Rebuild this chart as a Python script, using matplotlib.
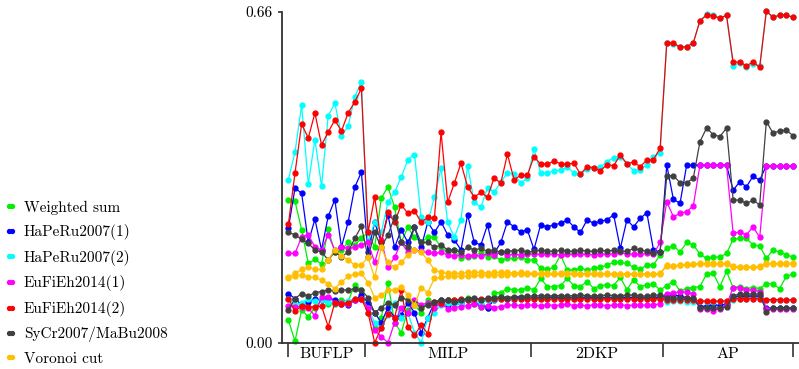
import matplotlib
matplotlib.use('Agg')
import matplotlib.pyplot as plt

plt.rcParams['font.family'] = ['cmr10', 'DejaVu Serif']
plt.rcParams['axes.formatter.use_mathtext'] = True

# instance groups (12 BUFLP, 25 MILP, 20 2DKP, 20 AP)
groups = ['BUFLP', 'MILP', '2DKP', 'AP']
group_sizes = [12, 25, 20, 20]

labels = ['Weighted sum', 'HaPeRu2007(1)', 'HaPeRu2007(2)', 'EuFiEh2014(1)',
          'EuFiEh2014(2)', 'SyCr2007/MaBu2008', 'Voronoi cut']
colors = ['#00f000', '#0000ff', '#00ffff', '#ff00ff', '#ff0000', '#404040', '#ffbf00']

# upper / lower curve of each method
ws_hi = [0.284, 0.282, 0.225, 0.158, 0.166, 0.157, 0.226, 0.18, 0.185, 0.2, 0.195, 0.208,
         0.22, 0.19, 0.288, 0.311, 0.27, 0.2, 0.23, 0.21, 0.2, 0.21, 0.21, 0.19, 0.18, 0.185, 0.168,
         0.171, 0.172, 0.18, 0.171, 0.172, 0.165, 0.168, 0.168, 0.17, 0.165,
         0.165, 0.148, 0.146, 0.15, 0.175, 0.145, 0.145, 0.148, 0.145, 0.148, 0.15, 0.155, 0.16, 0.16,
         0.158, 0.15, 0.146, 0.155, 0.155, 0.175,
         0.188, 0.193, 0.181, 0.2, 0.195, 0.177, 0.168, 0.171, 0.171, 0.178, 0.206, 0.208, 0.208,
         0.195, 0.193, 0.168, 0.185, 0.181, 0.175, 0.171]
ws_lo = [0.045, 0.003, 0.065, 0.052, 0.07, 0.085, 0.078, 0.078, 0.085, 0.082, 0.116, 0.105,
         0.06, 0.03, 0.05, 0.12, 0.04, 0.02, 0.065, 0.075, 0.06, 0.085, 0.07, 0.08, 0.085, 0.085,
         0.082, 0.09, 0.078, 0.072, 0.07, 0.1, 0.1, 0.108, 0.105, 0.106, 0.11,
         0.105, 0.128, 0.112, 0.112, 0.114, 0.128, 0.114, 0.112, 0.122, 0.108, 0.114, 0.115, 0.114,
         0.13, 0.106, 0.125, 0.112, 0.115, 0.117, 0.105,
         0.114, 0.122, 0.103, 0.108, 0.11, 0.112, 0.137, 0.138, 0.112, 0.142, 0.11, 0.112, 0.108,
         0.11, 0.108, 0.118, 0.117, 0.108, 0.132, 0.137]
hp1_hi = [0.228, 0.308, 0.298, 0.2, 0.246, 0.185, 0.252, 0.285, 0.191, 0.24, 0.31, 0.34,
          0.18, 0.24, 0.2, 0.255, 0.19, 0.225, 0.2, 0.23, 0.19, 0.24, 0.22, 0.241, 0.215, 0.205,
          0.185, 0.255, 0.2, 0.195, 0.235, 0.178, 0.2, 0.241, 0.231, 0.221, 0.225,
          0.186, 0.235, 0.231, 0.235, 0.238, 0.245, 0.231, 0.22, 0.245, 0.238, 0.242, 0.245, 0.255,
          0.188, 0.245, 0.231, 0.248, 0.259, 0.185, 0.181,
          0.354, 0.286, 0.278, 0.354, 0.354, 0.354, 0.354, 0.354, 0.354, 0.354, 0.304, 0.321, 0.311,
          0.332, 0.324, 0.353, 0.353, 0.353, 0.353, 0.353]
hp1_lo = [0.098, 0.088, 0.075, 0.082, 0.087, 0.085, 0.09, 0.085, 0.078, 0.075, 0.085, 0.095,
          0.08, 0.06, 0.04, 0.07, 0.05, 0.055, 0.08, 0.06, 0.02, 0.05, 0.08, 0.085, 0.075, 0.08,
          0.08, 0.085, 0.08, 0.075, 0.07, 0.085, 0.09, 0.088, 0.09, 0.09, 0.088,
          0.09, 0.089, 0.09, 0.091, 0.09, 0.089, 0.09, 0.09, 0.091, 0.09, 0.089, 0.09, 0.09, 0.091,
          0.09, 0.09, 0.089, 0.09, 0.09, 0.091,
          0.095, 0.095, 0.093, 0.09, 0.087, 0.071, 0.074, 0.076, 0.074, 0.078, 0.092, 0.093, 0.093,
          0.093, 0.093, 0.069, 0.069, 0.069, 0.069, 0.069]
hp2_hi = [0.325, 0.38, 0.474, 0.316, 0.405, 0.312, 0.452, 0.478, 0.412, 0.432, 0.49, 0.52,
          0.2, 0.24, 0.22, 0.28, 0.3, 0.33, 0.365, 0.375, 0.25, 0.24, 0.29, 0.348, 0.24, 0.21,
          0.245, 0.353, 0.28, 0.27, 0.309, 0.3, 0.32, 0.339, 0.336, 0.318, 0.328,
          0.386, 0.339, 0.338, 0.343, 0.344, 0.35, 0.339, 0.336, 0.346, 0.348, 0.35, 0.361, 0.369,
          0.371, 0.356, 0.343, 0.345, 0.355, 0.37, 0.379,
          0.598, 0.595, 0.589, 0.59, 0.598, 0.642, 0.655, 0.654, 0.647, 0.653, 0.552, 0.558, 0.55,
          0.555, 0.552, 0.661, 0.649, 0.653, 0.653, 0.649]
hp2_lo = [0.088, 0.075, 0.08, 0.088, 0.083, 0.086, 0.081, 0.078, 0.08, 0.083, 0.088, 0.088,
          0.07, 0.04, 0.03, 0.055, 0.08, 0.05, 0.06, 0.02, 0.0, 0.05, 0.06, 0.075, 0.08, 0.075,
          0.08, 0.085, 0.082, 0.08, 0.085, 0.085, 0.087, 0.087, 0.086, 0.087, 0.088,
          0.088, 0.087, 0.088, 0.088, 0.087, 0.088, 0.088, 0.087, 0.088, 0.088, 0.087, 0.088, 0.088,
          0.087, 0.088, 0.088, 0.087, 0.088, 0.088, 0.087,
          0.081, 0.083, 0.083, 0.082, 0.082, 0.084, 0.082, 0.082, 0.083, 0.084, 0.086, 0.087, 0.087,
          0.087, 0.087, 0.085, 0.085, 0.085, 0.085, 0.085]
ef1_hi = [0.178, 0.178, 0.211, 0.215, 0.191, 0.185, 0.215, 0.185, 0.191, 0.188, 0.19, 0.195,
          0.2, 0.16, 0.205, 0.15, 0.17, 0.2, 0.18, 0.185, 0.182, 0.18, 0.178, 0.18, 0.175, 0.172,
          0.175, 0.172, 0.175, 0.172, 0.178, 0.175, 0.18, 0.175, 0.176, 0.175, 0.176,
          0.177, 0.176, 0.177, 0.176, 0.175, 0.177, 0.176, 0.177, 0.176, 0.175, 0.177, 0.176, 0.177,
          0.18, 0.176, 0.177, 0.176, 0.178, 0.176, 0.2,
          0.281, 0.251, 0.258, 0.261, 0.273, 0.354, 0.354, 0.354, 0.354, 0.354, 0.218, 0.221, 0.215,
          0.231, 0.21, 0.353, 0.353, 0.353, 0.353, 0.353]
ef1_lo = [0.073, 0.072, 0.072, 0.069, 0.054, 0.092, 0.092, 0.08, 0.08, 0.078, 0.085, 0.087,
          0.07, 0.025, 0.012, 0.0, 0.04, 0.07, 0.06, 0.085, 0.075, 0.08, 0.07, 0.078, 0.068, 0.07,
          0.072, 0.074, 0.078, 0.072, 0.074, 0.07, 0.072, 0.075, 0.075, 0.074, 0.075,
          0.075, 0.073, 0.076, 0.074, 0.075, 0.077, 0.074, 0.075, 0.073, 0.076, 0.075, 0.074, 0.075,
          0.076, 0.074, 0.075, 0.075, 0.075, 0.075, 0.078,
          0.098, 0.1, 0.101, 0.101, 0.097, 0.068, 0.068, 0.064, 0.068, 0.075, 0.11, 0.11, 0.105,
          0.105, 0.102, 0.068, 0.068, 0.068, 0.068, 0.068]
ef2_hi = [0.236, 0.338, 0.436, 0.408, 0.458, 0.394, 0.42, 0.444, 0.422, 0.458, 0.48, 0.507,
          0.22, 0.29, 0.2, 0.26, 0.24, 0.275, 0.258, 0.263, 0.24, 0.25, 0.248, 0.42, 0.28, 0.318,
          0.358, 0.311, 0.29, 0.3, 0.29, 0.329, 0.318, 0.376, 0.325, 0.334, 0.334,
          0.371, 0.356, 0.356, 0.362, 0.357, 0.356, 0.358, 0.336, 0.351, 0.349, 0.343, 0.355, 0.353,
          0.374, 0.357, 0.36, 0.351, 0.364, 0.365, 0.388,
          0.598, 0.598, 0.589, 0.59, 0.598, 0.642, 0.653, 0.652, 0.647, 0.653, 0.559, 0.56, 0.552,
          0.56, 0.549, 0.661, 0.649, 0.653, 0.653, 0.649]
ef2_lo = [0.088, 0.063, 0.073, 0.072, 0.071, 0.073, 0.032, 0.08, 0.078, 0.079, 0.087, 0.087,
          0.06, 0.0, 0.03, 0.057, 0.05, 0.105, 0.032, 0.015, 0.035, 0.018, 0.082, 0.08, 0.085,
          0.085, 0.087, 0.085, 0.087, 0.088, 0.087, 0.088, 0.088, 0.088, 0.088, 0.088, 0.088,
          0.088, 0.088, 0.087, 0.088, 0.088, 0.088, 0.087, 0.088, 0.088, 0.088, 0.088, 0.087, 0.088,
          0.088, 0.088, 0.088, 0.087, 0.088, 0.088, 0.088,
          0.086, 0.086, 0.086, 0.086, 0.086, 0.083, 0.083, 0.083, 0.083, 0.083, 0.088, 0.088, 0.088,
          0.088, 0.088, 0.086, 0.086, 0.086, 0.086, 0.085]
sc_hi = [0.22, 0.215, 0.206, 0.198, 0.185, 0.181, 0.165, 0.181, 0.171, 0.181, 0.208, 0.232,
         0.17, 0.22, 0.19, 0.215, 0.25, 0.2, 0.19, 0.23, 0.2, 0.2, 0.19, 0.195, 0.185, 0.185,
         0.18, 0.19, 0.185, 0.188, 0.182, 0.185, 0.18, 0.183, 0.183, 0.185, 0.18,
         0.183, 0.184, 0.183, 0.182, 0.184, 0.183, 0.182, 0.184, 0.183, 0.182, 0.184, 0.183, 0.184,
         0.183, 0.182, 0.188, 0.185, 0.182, 0.178, 0.181,
         0.333, 0.333, 0.319, 0.319, 0.328, 0.401, 0.428, 0.415, 0.411, 0.428, 0.285, 0.284, 0.278,
         0.284, 0.275, 0.441, 0.418, 0.422, 0.424, 0.413]
sc_lo = [0.065, 0.088, 0.098, 0.093, 0.1, 0.102, 0.105, 0.103, 0.105, 0.105, 0.108, 0.105,
         0.09, 0.06, 0.07, 0.08, 0.075, 0.09, 0.085, 0.08, 0.07, 0.075, 0.082, 0.085, 0.085,
         0.082, 0.085, 0.088, 0.09, 0.085, 0.09, 0.09, 0.092, 0.09, 0.092, 0.092, 0.093,
         0.093, 0.094, 0.093, 0.094, 0.094, 0.093, 0.094, 0.095, 0.094, 0.093, 0.094, 0.095, 0.094,
         0.094, 0.095, 0.095, 0.093, 0.093, 0.095, 0.095,
         0.089, 0.089, 0.089, 0.089, 0.089, 0.07, 0.069, 0.069, 0.069, 0.071, 0.094, 0.097, 0.097,
         0.097, 0.097, 0.062, 0.069, 0.069, 0.069, 0.069]
vc_hi = [0.131, 0.138, 0.146, 0.151, 0.146, 0.146, 0.165, 0.185, 0.173, 0.165, 0.155, 0.155,
         0.17, 0.13, 0.19, 0.16, 0.15, 0.16, 0.175, 0.185, 0.18, 0.165, 0.145, 0.14, 0.138, 0.138,
         0.138, 0.14, 0.14, 0.14, 0.139, 0.14, 0.14, 0.14, 0.139, 0.14, 0.139,
         0.138, 0.138, 0.138, 0.138, 0.138, 0.138, 0.138, 0.137, 0.138, 0.138, 0.137, 0.138, 0.137,
         0.137, 0.137, 0.137, 0.137, 0.137, 0.137, 0.138,
         0.155, 0.153, 0.155, 0.156, 0.157, 0.158, 0.158, 0.158, 0.158, 0.158, 0.152, 0.151, 0.151,
         0.151, 0.152, 0.158, 0.158, 0.158, 0.158, 0.158]
vc_lo = [0.128, 0.132, 0.135, 0.131, 0.13, 0.125, 0.118, 0.108, 0.121, 0.132, 0.137, 0.138,
         0.12, 0.09, 0.095, 0.105, 0.105, 0.112, 0.095, 0.075, 0.11, 0.1, 0.128, 0.13, 0.132,
         0.132, 0.133, 0.133, 0.134, 0.134, 0.135, 0.135, 0.135, 0.135, 0.136, 0.136, 0.136,
         0.136, 0.136, 0.136, 0.136, 0.136, 0.136, 0.136, 0.136, 0.137, 0.136, 0.137, 0.137, 0.137,
         0.137, 0.136, 0.137, 0.137, 0.137, 0.137, 0.137,
         0.153, 0.152, 0.154, 0.155, 0.156, 0.157, 0.157, 0.157, 0.157, 0.157, 0.151, 0.15, 0.15,
         0.15, 0.151, 0.157, 0.157, 0.157, 0.157, 0.157]

series = [(ws_hi, ws_lo), (hp1_hi, hp1_lo), (hp2_hi, hp2_lo), (ef1_hi, ef1_lo),
          (ef2_hi, ef2_lo), (sc_hi, sc_lo), (vc_hi, vc_lo)]

n = sum(group_sizes)
x = list(range(n))

fig = plt.figure(figsize=(7.99, 3.69), dpi=100)
ax = fig.add_axes([0.353, 0.0713, 0.647, 0.897])

handles = []
for (hi, lo), col, lab in zip(series, colors, labels):
    assert len(hi) == n and len(lo) == n
    for vals in (lo, hi):
        ln, = ax.plot(x, vals, color=col, lw=0.9, marker='o', ms=3.5, mec=col, mfc=col,
                      clip_on=False, label=lab)
    handles.append(ln)

ax.set_xlim(-0.95, 76.92)
ax.set_ylim(0, 0.66)

# group boundaries as ticks, names in between
bounds = [0]
for s in group_sizes:
    bounds.append(bounds[-1] + s)
major = [0] + [b - 0.5 for b in bounds[1:-1]] + [n - 1]
ax.set_xticks(major)
ax.set_xticklabels([''] * len(major))
mids = [(major[k] + major[k + 1]) / 2 for k in range(len(groups))]
ax.set_xticks(mids, minor=True)
ax.set_xticklabels(groups, minor=True, fontsize=11.5)
ax.tick_params(axis='x', which='major', length=10, width=1.2, direction='out', color='#333333')
ax.tick_params(axis='x', which='minor', length=0, pad=3)

ax.set_yticks([0, 0.66])
ax.set_yticklabels(['0.00', '0.66'], fontsize=11)
ax.tick_params(axis='y', length=3, width=1.2, color='#333333', pad=4)

for side in ['top', 'right']:
    ax.spines[side].set_visible(False)
for side in ['left', 'bottom']:
    ax.spines[side].set_color('#333333')
    ax.spines[side].set_linewidth(1.3)

fig.legend(handles, labels, loc='upper left', bbox_to_anchor=(0.005, 0.457), frameon=False,
           fontsize=11, numpoints=2, handlelength=0.8, handletextpad=0.5, labelspacing=0.63,
           borderpad=0, borderaxespad=0, markerscale=0.8)

fig.savefig('out.png', dpi=100)
